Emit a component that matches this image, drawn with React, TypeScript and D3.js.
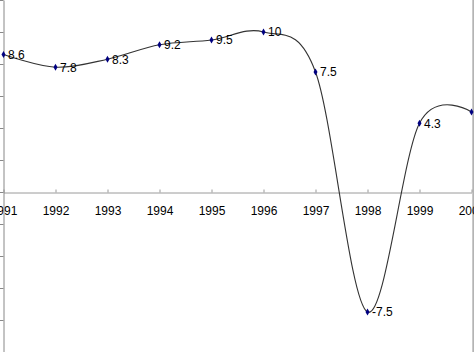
import { useRef, useEffect } from "react";
import * as d3 from "d3";

const years = ["1991", "1992", "1993", "1994", "1995", "1996", "1997", "1998", "1999", "2000"];
const growth = [8.6, 7.8, 8.3, 9.2, 9.5, 10, 7.5, -7.5, 4.3, 5.0];
const valueLabels = ["8.6", "7.8", "8.3", "9.2", "9.5", "10", "7.5", "-7.5", "4.3", ""];
const yTicks = [-10, -8, -6, -4, -2, 0, 2, 4, 6, 8, 10, 12];

export default function App() {
  const svgRef = useRef<SVGSVGElement>(null);
  const width = 474;
  const height = 352;

  useEffect(() => {
    if (!svgRef.current) return;
    const svg = d3.select(svgRef.current);
    svg.selectAll("*").remove();

    const x = d3.scalePoint<string>().domain(years).range([3.5, 471.5]);
    const y = d3.scaleLinear().domain([-10, 12]).range([height, 0]);

    svg.append("rect").attr("width", width).attr("height", height).attr("fill", "#fff");

    // right border of the plot area
    svg.append("rect")
      .attr("x", 472.3)
      .attr("y", 0)
      .attr("width", 1.7)
      .attr("height", height)
      .attr("fill", "#b4b4b4");

    // x axis at zero
    const xAxis = svg.append("g")
      .attr("transform", `translate(0,${y(0) + 0.5})`)
      .call(d3.axisBottom(x).tickSize(-3).tickPadding(13.5).tickSizeOuter(0));
    xAxis.select(".domain").attr("stroke", "#9a9a9a");
    xAxis.selectAll(".tick line").attr("stroke", "#9a9a9a");
    xAxis.selectAll("text")
      .attr("fill", "#000")
      .attr("font-family", "Arial, 'Liberation Sans', sans-serif")
      .attr("font-size", 12);

    // y axis (labels sit outside the crop)
    const yAxis = svg.append("g")
      .attr("transform", `translate(3.5,0)`)
      .call(d3.axisLeft(y).tickValues(yTicks).tickSize(4).tickSizeOuter(0).tickFormat(() => ""));
    yAxis.select(".domain").attr("stroke", "#888");
    yAxis.selectAll(".tick line").attr("stroke", "#888");

    // smoothed line
    const line = d3.line<number>()
      .x((_, i) => x(years[i])!)
      .y((d) => y(d))
      .curve(d3.curveCardinal.tension(0));

    svg.append("path")
      .datum(growth)
      .attr("d", line)
      .attr("fill", "none")
      .attr("stroke", "#333")
      .attr("stroke-width", 1.1);

    // markers
    const diamond = d3.symbol().type(d3.symbolDiamond).size(14);
    svg.append("g")
      .selectAll("path")
      .data(growth)
      .join("path")
      .attr("transform", (d, i) => `translate(${x(years[i])},${y(d)})`)
      .attr("d", diamond)
      .attr("fill", "#000080");

    // data labels
    svg.append("g")
      .selectAll("text")
      .data(growth)
      .join("text")
      .attr("x", (_, i) => x(years[i])! + 4.5)
      .attr("y", (d) => y(d))
      .attr("dy", "0.36em")
      .attr("font-family", "Arial, 'Liberation Sans', sans-serif")
      .attr("font-size", 12)
      .attr("fill", "#000")
      .text((_, i) => valueLabels[i]);
  }, []);

  return (
    <svg
      ref={svgRef}
      width={width}
      height={height}
      style={{ position: "absolute", left: 0, top: 0, display: "block" }}
    />
  );
}
